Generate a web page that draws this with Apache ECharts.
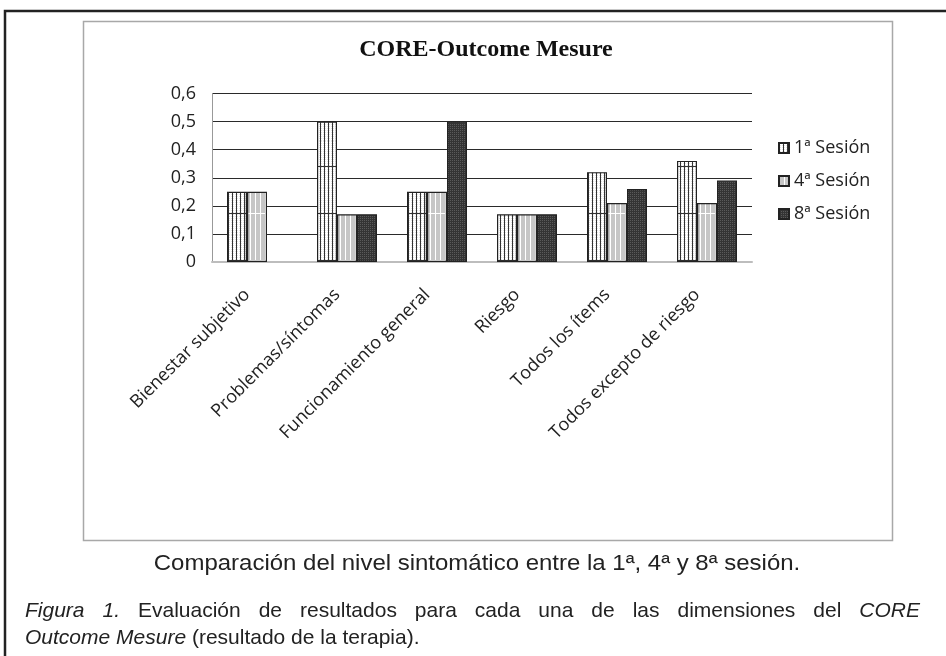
<!DOCTYPE html>
<html><head><meta charset="utf-8">
<script src="https://cdn.jsdelivr.net/npm/echarts@6/dist/echarts.min.js"></script>
<style>html,body{margin:0;padding:0;background:#fff}#c{width:946px;height:656px}</style>
</head><body><div id="c"></div>
<script>
const categories = ['Bienestar subjetivo','Problemas/síntomas','Funcionamiento general','Riesgo','Todos los ítems','Todos excepto de riesgo'];
const sesion1 = [0.25, 0.5, 0.25, 0.17, 0.32, 0.36];
const sesion4 = [0.25, 0.17, 0.25, 0.17, 0.21, 0.21];
const sesion8 = [null, 0.17, 0.5, 0.17, 0.26, 0.29];
const seriesNames = ['1ª Sesión','4ª Sesión','8ª Sesión'];
const yTickLabels = ['0','0,1','0,2','0,3','0,4','0,5','0,6'];
const chartTitle = 'CORE-Outcome Mesure';
const subCaption = 'Comparación del nivel sintomático entre la 1ª, 4ª y 8ª sesión.';
const figLine1 = [['Figura',1],['1.',1],['Evaluación',0],['de',0],['resultados',0],['para',0],['cada',0],['una',0],['de',0],['las',0],['dimensiones',0],['del',0],['CORE',1]];
const figLine2 = [['Outcome Mesure',1],[' (resultado de la terapia).',0]];

function mk(w,h,draw){const c=document.createElement('canvas');c.width=w;c.height=h;draw(c.getContext('2d'),w,h);return c;}
const pat1 = mk(4,47,(g,w,h)=>{g.fillStyle='#fff';g.fillRect(0,0,w,h);g.fillStyle='#e2e2e2';
  for(let y=0;y<h;y+=2)for(let x=1;x<w;x+=2)g.fillRect(x,y,1,1);
  g.fillStyle='#333';g.fillRect(0,0,1,h);g.fillRect(0,25,w,1);});
const pat4 = mk(5,47,(g,w,h)=>{g.fillStyle='#c6c6c6';g.fillRect(0,0,w,h);
  g.fillStyle='#fff';g.fillRect(0,0,1,h);g.fillRect(0,25,w,1);});
const pat8 = mk(2,2,(g,w,h)=>{g.fillStyle='#343434';g.fillRect(0,0,w,h);g.fillStyle='#5a5a5a';g.fillRect(0,0,1,1);});
const pats=[pat1,pat4,pat8];
const data=[sesion1,sesion4,sesion8];

const CAPF='"Liberation Sans", Arial, sans-serif';
const FS=21;
const mc=document.createElement('canvas').getContext('2d');
function tw(t,it){mc.font=(it?'italic ':'')+FS+'px '+CAPF;return mc.measureText(t).width;}
const L=25,R=920;
let total=0;figLine1.forEach(w=>total+=tw(w[0],w[1]));
const gap=(R-L-total)/(figLine1.length-1);
const graphics=[
  {type:'rect',shape:{x:5,y:11,width:1000,height:800},style:{fill:'none',stroke:'#222',lineWidth:2.5},z:0,silent:true},
  {type:'rect',shape:{x:83.5,y:21.5,width:809,height:519},style:{fill:'none',stroke:'#a8a8a8',lineWidth:1.5},z:0,silent:true},
  {type:'text',x:486,y:50,style:{text:chartTitle,font:'bold 24px "Liberation Serif", "Times New Roman", serif',fill:'#111',align:'center',verticalAlign:'middle'}},
  {type:'text',x:477,y:564,scaleX:1.09,style:{text:subCaption,font:'22px '+CAPF,fill:'#222',align:'center',verticalAlign:'middle'}}
];
let x=L;
figLine1.forEach(w=>{graphics.push({type:'text',x:x,y:611,style:{text:w[0],font:(w[1]?'italic ':'')+FS+'px '+CAPF,fill:'#222',align:'left',verticalAlign:'middle'}});x+=tw(w[0],w[1])+gap;});
x=L;
figLine2.forEach(w=>{graphics.push({type:'text',x:x,y:638,style:{text:w[0],font:(w[1]?'italic ':'')+FS+'px '+CAPF,fill:'#222',align:'left',verticalAlign:'middle'}});x+=tw(w[0],w[1]);});

const chart=echarts.init(document.getElementById('c'),null,{renderer:'canvas'});
const LF='"Open Sans", sans-serif';
chart.setOption({
  animation:false,
  backgroundColor:'#fff',
  grid:{left:212,top:93.5,width:540,height:168.5,containLabel:false},
  legend:{orient:'vertical',left:773,top:134,itemWidth:10,itemHeight:10,itemGap:15,icon:'rect',
    textStyle:{fontFamily:LF,fontSize:18,color:'#222'},data:seriesNames},
  xAxis:{type:'category',data:categories,
    axisLine:{lineStyle:{color:'#bdbdbd',width:2}},axisTick:{show:false},
    axisLabel:{interval:0,rotate:45,margin:20,fontFamily:LF,fontSize:18,color:'#222',padding:[0,14,0,0]}},
  yAxis:{type:'value',min:0,max:0.6,interval:0.1,
    axisLine:{show:true,lineStyle:{color:'#999',width:1}},axisTick:{show:false},
    splitLine:{lineStyle:{color:'#2a2a2a',width:1}},
    axisLabel:{margin:16,fontFamily:LF,fontSize:18,color:'#222',formatter:(v)=>yTickLabels[Math.round(v*10)]}},
  series:seriesNames.map((n,i)=>({name:n,type:'bar',data:data[i],barWidth:20,barGap:'0%',
    itemStyle:{color:{image:pats[i],repeat:'repeat'},borderColor:'#222',borderWidth:1.2}})),
  graphic:graphics
});
</script></body></html>
